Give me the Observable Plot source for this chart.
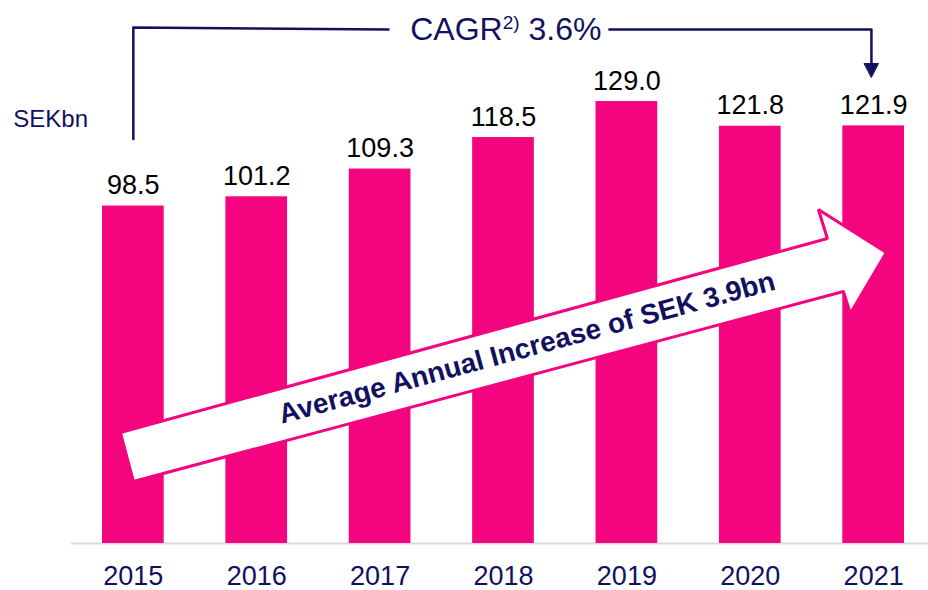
<!DOCTYPE html>
<html>
<head>
<meta charset="utf-8">
<script src="https://cdn.jsdelivr.net/npm/d3@7"></script>
<script src="https://cdn.jsdelivr.net/npm/@observablehq/plot@0.6"></script>
<style>
  html, body { margin: 0; padding: 0; background: #fff; }
  #chart { width: 928px; height: 590px; }
</style>
</head>
<body>
<div id="chart"></div>
<script>
// ---- Data ----
const years = [2015, 2016, 2017, 2018, 2019, 2020, 2021];
const revenue = [98.5, 101.2, 109.3, 118.5, 129.0, 121.8, 121.9];
const unitLabel = "SEKbn";
const cagrLabel = "CAGR2) 3.6%";
const arrowLabel = "Average Annual Increase of SEK 3.9bn";

// Annotation geometry in data units (x: year, y: SEKbn)
const bigArrowX = [2014.895, 2020.625, 2020.552, 2021.103, 2020.811, 2020.755, 2015.0];
const bigArrowY = [32.4, 89.03, 97.49, 84.94, 67.14, 73.56, 18.1];
const bracketX = [2015.0, 2015.0, 2017.067];
const bracketY = [118.1, 150.6, 150.0];
const bracketRightX = [2018.858, 2020.982, 2020.982];
const bracketRightY = [150.0, 150.0, 140.1];
const headX = [2020.925, 2021.039, 2020.982];
const headY = [140.1, 140.1, 136.1];

const pink = "#f4047f";
const navy = "#11115f";

const table = years.map((year, i) => ({year, value: revenue[i]}));
const arrowPts = bigArrowX.map((x, i) => ({x, y: bigArrowY[i]}));
const bracketL = bracketX.map((x, i) => ({x, y: bracketY[i]}));
const bracketR = bracketRightX.map((x, i) => ({x, y: bracketRightY[i]}));
const head = headX.map((x, i) => ({x, y: headY[i]}));

const chart = Plot.plot({
  width: 928,
  height: 590,
  marginLeft: 102,
  marginRight: 24,
  marginTop: 0,
  marginBottom: 47,
  style: {
    fontFamily: "'Liberation Sans', Arial, sans-serif",
    fontSize: "27px",
    color: navy,
    background: "white",
    overflow: "visible"
  },
  x: {
    domain: [2014.75, 2021.25],
    ticks: years,
    tickFormat: d => String(d),
    tickSize: 0,
    tickPadding: 22,
    label: null
  },
  y: {domain: [0, 158.5], axis: null},
  marks: [
    Plot.ruleY([0], {x1: 2014.5, x2: 2021.5, stroke: "#d9d9d9", strokeWidth: 2}),
    Plot.rectY(table, {x1: d => d.year - 0.25, x2: d => d.year + 0.25, y: "value", fill: pink}),
    Plot.text(table, {
      x: "year", y: "value", text: d => d.value.toFixed(1),
      dy: -12, lineAnchor: "bottom", fontSize: 27, fill: "#000"
    }),
    // big arrow
    Plot.line(arrowPts, {x: "x", y: "y", curve: "linear-closed", fill: "white", stroke: pink, strokeWidth: 3, strokeLinejoin: "miter"}),
    Plot.text([arrowLabel], {
      x: 2018.19, y: 57.1, text: d => d, rotate: -15.2,
      fontSize: 28, fontWeight: "bold", fill: navy, lineAnchor: "middle"
    }),
    // CAGR bracket
    Plot.line(bracketL, {x: "x", y: "y", stroke: navy, strokeWidth: 2.5}),
    Plot.line(bracketR, {x: "x", y: "y", stroke: navy, strokeWidth: 2.5}),
    Plot.line(head, {x: "x", y: "y", curve: "linear-closed", fill: navy, stroke: navy, strokeWidth: 1}),
    Plot.text([cagrLabel], {
      x: 2018.019, y: 147.1, text: d => d, fontSize: 32, fill: navy, lineAnchor: "bottom"
    }),
    Plot.text([unitLabel], {
      x: 2014.027, y: 121.5, text: d => d, fontSize: 24, fill: navy,
      textAnchor: "start", lineAnchor: "bottom"
    })
  ]
});

// superscript for the CAGR footnote marker
const ns = "http://www.w3.org/2000/svg";
chart.querySelectorAll("text").forEach(t => {
  if (t.textContent === cagrLabel) {
    t.textContent = "";
    const a = document.createElementNS(ns, "tspan");
    a.textContent = "CAGR";
    const b = document.createElementNS(ns, "tspan");
    b.textContent = "2)";
    b.setAttribute("font-size", "19");
    b.setAttribute("dy", "-11");
    const c = document.createElementNS(ns, "tspan");
    c.textContent = "\u00a03.6%";
    c.setAttribute("dy", "11");
    t.appendChild(a); t.appendChild(b); t.appendChild(c);
  }
});

document.getElementById("chart").appendChild(chart);
</script>
</body>
</html>
